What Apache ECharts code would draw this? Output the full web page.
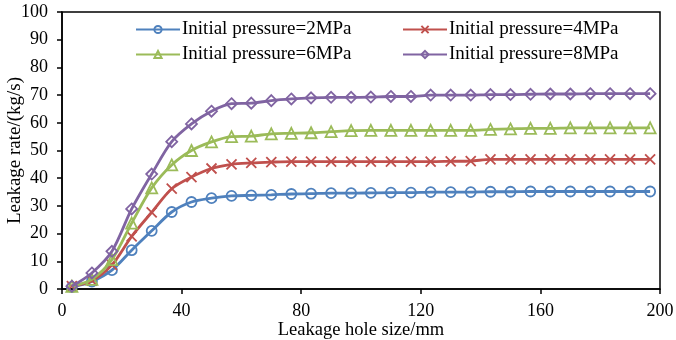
<!DOCTYPE html>
<html>
<head>
<meta charset="utf-8">
<script src="https://cdn.jsdelivr.net/npm/echarts@6/dist/echarts.min.js"></script>
<style>html,body{margin:0;padding:0;background:#fff}#c{width:676px;height:340px}</style>
</head>
<body>
<div id="c"></div>
<script>
const holeSizes = [3.3, 10, 16.7, 23.3, 30, 36.7, 43.3, 50, 56.7, 63.3, 70, 76.7, 83.3, 90, 96.7, 103.3, 110, 116.7, 123.3, 130, 136.7, 143.3, 150, 156.7, 163.3, 170, 176.7, 183.3, 190, 196.7];
const p2MPa = [0.7, 2.7, 6.8, 14.0, 21.0, 27.8, 31.4, 32.8, 33.6, 33.8, 34.0, 34.3, 34.4, 34.6, 34.6, 34.7, 34.8, 34.8, 35.0, 35.0, 35.0, 35.1, 35.1, 35.2, 35.2, 35.2, 35.2, 35.2, 35.2, 35.2];
const p4MPa = [1.0, 3.0, 8.7, 19.0, 27.7, 36.2, 40.4, 43.5, 45.0, 45.5, 45.8, 46.0, 46.0, 46.0, 46.0, 46.0, 46.0, 46.0, 46.0, 46.1, 46.2, 46.8, 46.8, 46.8, 46.8, 46.8, 46.8, 46.8, 46.8, 46.8];
const p6MPa = [1.0, 3.5, 10.6, 23.8, 36.5, 44.8, 50.0, 53.1, 55.0, 55.2, 56.0, 56.2, 56.4, 56.8, 57.2, 57.3, 57.3, 57.3, 57.3, 57.3, 57.3, 57.6, 57.8, 58.0, 58.0, 58.2, 58.2, 58.2, 58.2, 58.2];
const p8MPa = [1.0, 5.8, 13.6, 28.9, 41.5, 53.2, 59.6, 64.2, 66.9, 67.1, 68.0, 68.6, 69.0, 69.2, 69.2, 69.3, 69.5, 69.5, 70.0, 70.0, 70.0, 70.2, 70.2, 70.3, 70.4, 70.4, 70.5, 70.5, 70.5, 70.5];
const seriesNames = ['Initial pressure=2MPa', 'Initial pressure=4MPa', 'Initial pressure=6MPa', 'Initial pressure=8MPa'];
const xTicks = [0, 40, 80, 120, 160, 200];
const yTicks = [0, 10, 20, 30, 40, 50, 60, 70, 80, 90, 100];

const FONT = '"Liberation Serif", "Times New Roman", serif';
const colors = ['#4F81BD', '#C0504D', '#9BBB59', '#8064A2'];
const symbols = ['circle', 'path://M0,0L10,10M10,0L0,10', 'triangle', 'diamond'];
const sizes = [10, 10, 11, 11];
const values = [p2MPa, p4MPa, p6MPa, p8MPa];

const series = values.map((vals, k) => ({
  name: seriesNames[k],
  type: 'line',
  smooth: 0.3,
  data: vals.map((v, i) => [holeSizes[i], v]),
  symbol: symbols[k],
  symbolSize: sizes[k],
  showAllSymbol: true,
  lineStyle: { color: colors[k], width: 2.8 },
  itemStyle: { color: 'rgba(255,255,255,0)', borderColor: colors[k], borderWidth: 1.8 },
  emphasis: { disabled: true },
  z: 2 + k
}));

const chart = echarts.init(document.getElementById('c'), null, { renderer: 'canvas' });
const legendCommon = {
  orient: 'vertical',
  itemWidth: 44,
  itemHeight: 9,
  itemGap: 6,
  textStyle: { fontFamily: FONT, fontSize: 19, color: '#000', padding: [0, 0, 0, -3] },
  selectedMode: false
};
chart.setOption({
  animation: false,
  backgroundColor: '#fff',
  grid: { left: 62, right: 16, top: 12, bottom: 51, show: true, borderColor: '#000', borderWidth: 1.5, outerBoundsMode: 'none', containLabel: false },
  legend: [
    Object.assign({ left: 130, top: 15, data: [seriesNames[0], seriesNames[2]] }, legendCommon),
    Object.assign({ left: 397, top: 15, data: [seriesNames[1], seriesNames[3]] }, legendCommon)
  ],
  xAxis: {
    type: 'value',
    min: xTicks[0], max: xTicks[xTicks.length - 1], interval: xTicks[1] - xTicks[0],
    name: 'Leakage hole size/mm',
    nameLocation: 'middle', nameGap: 32, nameMoveOverlap: false,
    nameTextStyle: { fontFamily: FONT, fontSize: 18.5, color: '#000' },
    axisLine: { lineStyle: { color: '#000', width: 1.5 } },
    axisTick: { show: true, inside: false, length: 5, lineStyle: { color: '#000', width: 1.5 } },
    axisLabel: { fontFamily: FONT, fontSize: 18, color: '#000', margin: 13 },
    splitLine: { show: false }
  },
  yAxis: {
    type: 'value',
    min: yTicks[0], max: yTicks[yTicks.length - 1], interval: yTicks[1] - yTicks[0],
    name: 'Leakage rate/(kg/s)',
    nameLocation: 'middle', nameGap: 37, nameMoveOverlap: false,
    nameTextStyle: { fontFamily: FONT, fontSize: 19, color: '#000' },
    axisLine: { show: true, lineStyle: { color: '#000', width: 1.5 } },
    axisTick: { show: true, inside: false, length: 5, lineStyle: { color: '#000', width: 1.5 } },
    axisLabel: { fontFamily: FONT, fontSize: 18, color: '#000', margin: 14 },
    splitLine: { show: false }
  },
  series: series
});
</script>
</body>
</html>
